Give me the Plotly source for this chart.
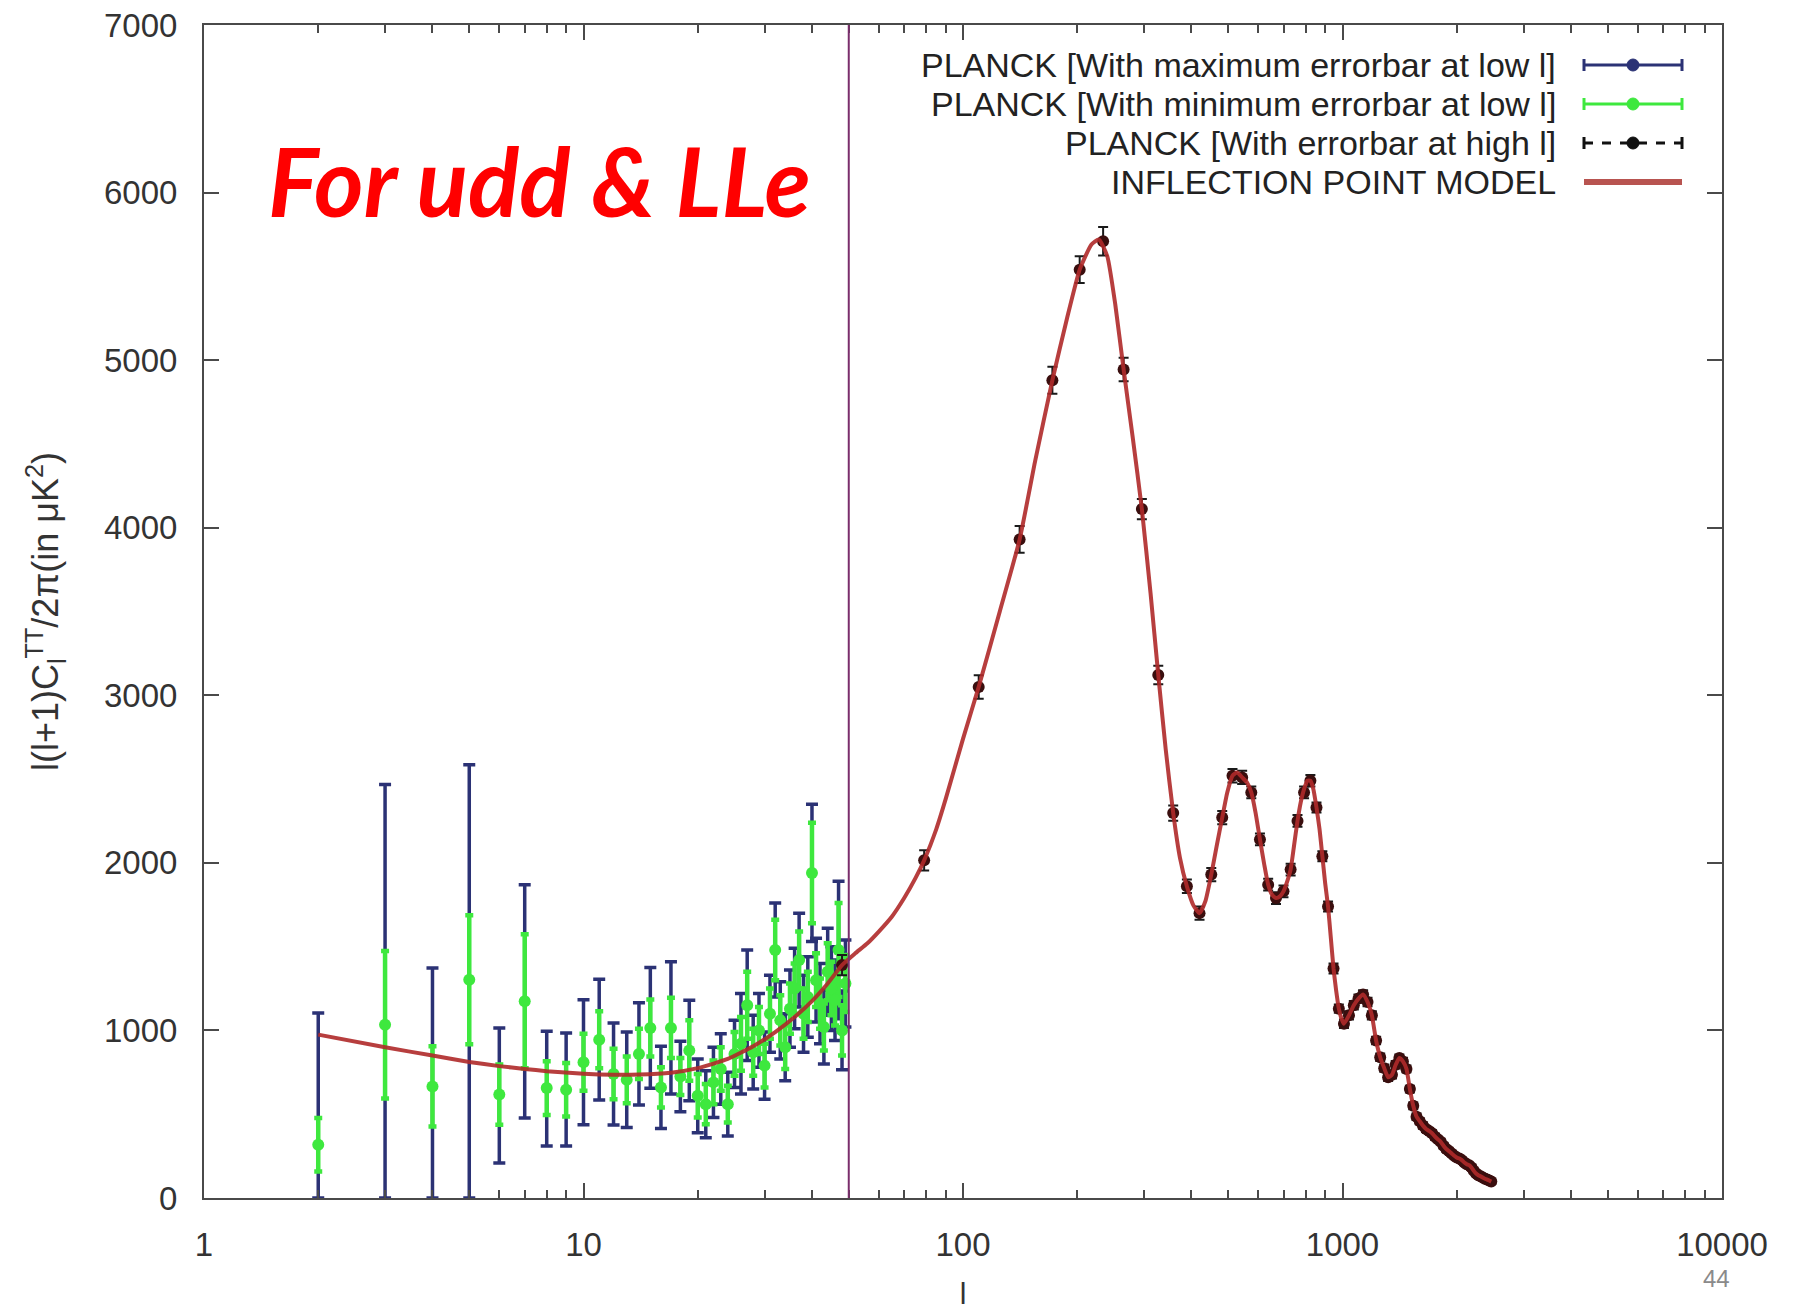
import plotly.graph_objects as go

# ---------------- data ----------------
# Planck low-l TT spectrum, l = 2..49 (D_l in muK^2)
low_l = list(range(2, 50))
low_dl = [318, 1034, 666, 1303, 617, 1174, 656, 646, 810, 945, 740, 705, 860, 1015,
          660, 1015, 725, 880, 610, 560, 690, 770, 560, 860, 920, 1150, 870, 1000,
          790, 1100, 1480, 1060, 900, 1130, 1250, 1420, 1100, 1200, 1940, 1300, 1160,
          1020, 1350, 1250, 1180, 1480, 1000, 1280]
# maximum error bars (upper / lower)
max_err_up = [786, 1433, 706, 1283, 397, 696, 339, 339, 373, 360, 305, 285, 305, 360,
              245, 395, 210, 300, 220, 200, 210, 210, 190, 200, 300, 330, 220, 220,
              200, 230, 280, 230, 200, 230, 240, 280, 230, 240, 410, 250, 240, 220,
              260, 250, 240, 410, 235, 260]
max_err_down = [318, 1034, 666, 1303, 408, 696, 346, 336, 373, 360, 305, 285, 305, 360,
                245, 395, 210, 300, 220, 200, 210, 210, 190, 200, 300, 330, 220, 220,
                200, 230, 280, 230, 200, 230, 240, 280, 230, 240, 410, 250, 240, 220,
                260, 250, 240, 410, 235, 260]
# minimum error bars (symmetric)
min_err = [160, 440, 240, 385, 180, 400, 160, 160, 170, 170, 150, 140, 150, 170,
           120, 180, 110, 180, 130, 120, 130, 130, 110, 130, 160, 200, 140, 140,
           130, 150, 180, 150, 130, 150, 150, 170, 150, 150, 300, 160, 150, 140,
           170, 160, 150, 280, 150, 170]

# Planck binned high-l TT spectrum
high_l = [48, 79, 110, 141, 172, 203, 234, 265, 296, 327, 358, 389, 420, 451, 482,
          513, 544, 575, 606, 637, 668, 699, 730, 761, 792, 823, 854, 885, 916, 947,
          978, 1009, 1040, 1071, 1102, 1133, 1164, 1195, 1226, 1257, 1288, 1319, 1350,
          1381, 1412, 1443, 1474, 1505, 1536, 1567, 1598, 1629, 1660, 1691, 1722, 1753,
          1784, 1815, 1846, 1877, 1908, 1939, 1970, 2001, 2032, 2063, 2094, 2125, 2156,
          2187, 2218, 2249, 2280, 2311, 2342, 2373, 2404, 2435, 2466]
high_dl = [1390, 2015, 3050, 3930, 4880, 5540, 5710, 4944, 4111, 3121, 2297, 1860, 1700,
           1930, 2270, 2520, 2510, 2420, 2140, 1870, 1790, 1830, 1960, 2250, 2420, 2490,
           2330, 2040, 1740, 1370, 1130, 1040, 1090, 1150, 1190, 1215, 1170, 1090, 940,
           840, 775, 720, 735, 795, 835, 815, 770, 650, 550, 485, 458, 432, 412, 400,
           386, 366, 350, 335, 312, 292, 280, 266, 252, 241, 236, 226, 212, 202, 196,
           182, 162, 146, 136, 130, 122, 115, 110, 104, 98]
high_err = [60, 60, 70, 80, 80, 80, 85, 70, 60, 55, 45, 40, 40, 40, 40, 40, 40, 35, 35,
            35, 35, 35, 35, 35, 35, 35, 30, 30, 30, 30, 25, 25, 25, 25, 25, 25, 25, 25,
            22, 22, 22, 22, 22, 22, 22, 22, 20, 20, 20, 20, 18, 18, 18, 18, 18, 18, 16,
            16, 16, 16, 16, 15, 15, 15, 15, 15, 15, 15, 15, 15, 14, 14, 14, 14, 14, 14,
            14, 14, 14]

# Inflection point model curve
model_l = [2, 3, 4, 5, 6, 7, 8, 10, 12, 14, 17, 20, 24, 28, 32, 36, 40, 44, 48, 52, 56,
           60, 65, 70, 75, 79, 85, 90, 100, 110, 125, 141, 155, 172, 188, 203, 218, 228,
           240, 252, 265, 280, 296, 312, 327, 342, 358, 373, 389, 405, 420, 435, 451,
           466, 482, 497, 513, 528, 544, 560, 575, 590, 606, 622, 637, 652, 668, 684,
           699, 715, 730, 745, 761, 776, 792, 808, 823, 838, 854, 870, 885, 900, 916,
           931, 947, 962, 978, 994, 1009, 1040, 1071, 1102, 1133, 1164, 1195, 1226, 1257,
           1288, 1319, 1350, 1381, 1412, 1443, 1474, 1505, 1536, 1567, 1598, 1629, 1660,
           1691, 1722, 1753, 1784, 1815, 1846, 1877, 1908, 1939, 1970, 2001, 2032, 2063,
           2094, 2125, 2156, 2187, 2218, 2249, 2280, 2311, 2342, 2373, 2404, 2435, 2466]
model_dl = [975, 900, 850, 812, 787, 770, 757, 742, 736, 737, 748, 775, 830, 905, 990,
            1080, 1175, 1280, 1390, 1460, 1520, 1590, 1680, 1790, 1910, 2015, 2200, 2380,
            2740, 3050, 3500, 3930, 4400, 4880, 5250, 5540, 5690, 5720, 5620, 5330, 4944,
            4540, 4111, 3610, 3121, 2680, 2297, 2030, 1860, 1745, 1700, 1770, 1930, 2100,
            2270, 2420, 2520, 2540, 2510, 2480, 2420, 2300, 2140, 1990, 1870, 1810, 1790,
            1800, 1830, 1890, 1960, 2100, 2250, 2360, 2440, 2490, 2490, 2440, 2330, 2200,
            2040, 1880, 1740, 1560, 1370, 1240, 1130, 1070, 1040, 1090, 1150, 1190, 1215,
            1170, 1090, 940, 840, 775, 720, 735, 795, 835, 815, 770, 650, 550, 485, 458,
            432, 412, 400, 386, 366, 350, 335, 312, 292, 280, 266, 252, 241, 236, 226,
            212, 202, 196, 182, 162, 146, 136, 130, 122, 115, 110, 104, 98]

x_ticks = [1, 10, 100, 1000, 10000]
x_tick_text = ["1", "10", "100", "1000", "10000"]
x_minor = [m * d for d in (1, 10, 100, 1000) for m in range(2, 10)]
y_ticks = list(range(0, 7001, 1000))
l_split = 50

legend_labels = ["PLANCK [With maximum errorbar at low l]",
                 "PLANCK [With minimum errorbar at low l]",
                 "PLANCK [With errorbar at high l]",
                 "INFLECTION POINT MODEL"]

# ---------------- styling ----------------
BLUE = "#2b3275"
GREEN = "#3ee83e"
DARK = "#3a0e0e"
RED = "#b02a2a"
AXIS = "#4a4a4a"
FONT = "Liberation Sans, Arial, sans-serif"

W, H = 1794, 1310
ML, MR, MT, MB = 204, 72, 25, 112
PW, PH = W - ML - MR, H - MT - MB


def px(x):
    return (x - ML) / PW


def py(y):
    return (H - MB - y) / PH


fig = go.Figure()

fig.add_trace(go.Scatter(
    x=low_l, y=low_dl, mode="markers", showlegend=False,
    marker=dict(color=BLUE, size=9),
    error_y=dict(type="data", symmetric=False, array=max_err_up,
                 arrayminus=max_err_down, color=BLUE, thickness=3.5, width=6),
))
fig.add_trace(go.Scatter(
    x=low_l, y=low_dl, mode="markers", showlegend=False,
    marker=dict(color=GREEN, size=12),
    error_y=dict(type="data", array=min_err, color=GREEN, thickness=4.5, width=4),
))
fig.add_trace(go.Scatter(
    x=high_l, y=high_dl, mode="markers", showlegend=False,
    marker=dict(color=DARK, size=12),
    error_y=dict(type="data", array=high_err, color="#1a1a1a", thickness=2, width=5),
))
fig.add_trace(go.Scatter(
    x=model_l, y=model_dl, mode="lines", showlegend=False,
    line=dict(color=RED, width=4, shape="spline", smoothing=0.5),
    opacity=0.9,
))

# split between low-l and high-l likelihood
fig.add_shape(type="line", xref="x", yref="paper", x0=l_split, x1=l_split, y0=0, y1=1,
              line=dict(color="#7a2e6c", width=2))

# legend: text right-aligned, sample on the right
row_y = [65, 104, 143, 182]
sx0, sx1, sxc = px(1584), px(1682), px(1633)
cap = 6 / PH
for i, (label, yy) in enumerate(zip(legend_labels, row_y)):
    fig.add_annotation(x=px(1558), y=py(yy), xref="paper", yref="paper", text=label,
                       showarrow=False, xanchor="right", yanchor="middle",
                       font=dict(family=FONT, size=34, color="#222222"))
    yc = py(yy)
    if i in (0, 1):
        col = BLUE if i == 0 else GREEN
        fig.add_shape(type="line", xref="paper", yref="paper", x0=sx0, x1=sx1,
                      y0=yc, y1=yc, line=dict(color=col, width=3))
        for xe in (sx0, sx1):
            fig.add_shape(type="line", xref="paper", yref="paper", x0=xe, x1=xe,
                          y0=yc - cap, y1=yc + cap, line=dict(color=col, width=3))
        fig.add_shape(type="circle", xref="paper", yref="paper", xsizemode="pixel",
                      ysizemode="pixel", xanchor=sxc, yanchor=yc, x0=-6, x1=6, y0=-6, y1=6,
                      fillcolor=col, line=dict(color=col, width=1))
    elif i == 2:
        fig.add_shape(type="line", xref="paper", yref="paper", x0=sx0, x1=sx1,
                      y0=yc, y1=yc, line=dict(color="#111111", width=3, dash="dash"))
        for xe in (sx0, sx1):
            fig.add_shape(type="line", xref="paper", yref="paper", x0=xe, x1=xe,
                          y0=yc - cap, y1=yc + cap, line=dict(color="#111111", width=3))
        fig.add_shape(type="circle", xref="paper", yref="paper", xsizemode="pixel",
                      ysizemode="pixel", xanchor=sxc, yanchor=yc, x0=-6, x1=6, y0=-6, y1=6,
                      fillcolor="#111111", line=dict(color="#111111", width=1))
    else:
        fig.add_shape(type="line", xref="paper", yref="paper", x0=sx0, x1=sx1,
                      y0=yc, y1=yc, line=dict(color="#b85450", width=6))

# overlay caption
fig.add_annotation(x=px(539), y=py(180), xref="paper", yref="paper",
                   text="For udd &amp; LLe", showarrow=False,
                   xanchor="center", yanchor="middle",
                   font=dict(family="Lato, Open Sans, sans-serif", size=95, color="#ff0000",
                             weight="bold", style="italic"))

# slide number
fig.add_annotation(x=px(1716), y=py(1278), xref="paper", yref="paper", text="44",
                   showarrow=False, xanchor="center", yanchor="middle",
                   font=dict(family="Liberation Sans Narrow, Liberation Sans, sans-serif",
                             size=24, color="#8a8a8a"))

fig.update_xaxes(
    type="log", range=[0, 4], tickmode="array", tickvals=x_ticks, ticktext=x_tick_text,
    ticks="inside", ticklen=15, tickwidth=2, tickcolor=AXIS,
    minor=dict(tickmode="array", tickvals=x_minor, ticks="inside", ticklen=8,
               tickwidth=1.5, tickcolor=AXIS, showgrid=False),
    showline=True, linecolor=AXIS, linewidth=2, mirror="allticks",
    showgrid=False, zeroline=False,
    tickfont=dict(family=FONT, size=33, color="#333333"), ticklabelstandoff=16,
    title=dict(text="l", font=dict(family=FONT, size=30, color="#333333"), standoff=22),
)
fig.update_yaxes(
    range=[0, 7000], tickmode="array", tickvals=y_ticks,
    ticks="inside", ticklen=15, tickwidth=2, tickcolor=AXIS,
    showline=True, linecolor=AXIS, linewidth=2, mirror="allticks",
    showgrid=False, zeroline=False,
    tickfont=dict(family=FONT, size=33, color="#333333"), ticklabelstandoff=18,
    title=dict(text="l(l+1)C<sub>l</sub><sup>TT</sup>/2π(in μK<sup>2</sup>)",
               font=dict(family=FONT, size=36, color="#333333"), standoff=34),
)

fig.update_layout(
    width=W, height=H, autosize=False,
    margin=dict(l=ML, r=MR, t=MT, b=MB, autoexpand=False),
    paper_bgcolor="white", plot_bgcolor="white", showlegend=False,
)

fig.write_html("out.html")
